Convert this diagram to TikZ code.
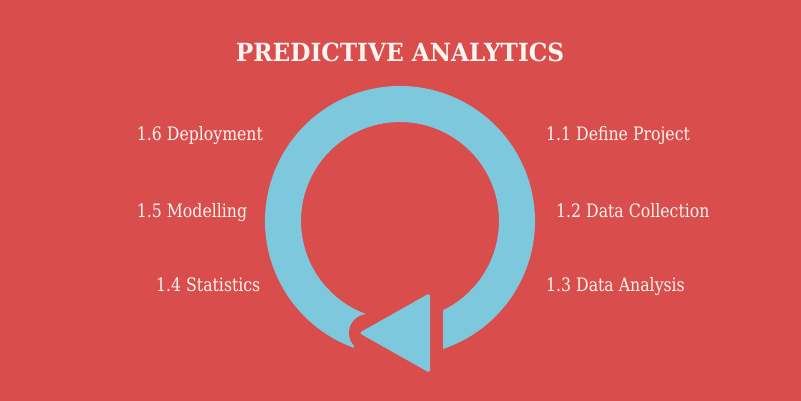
\documentclass[tikz,border=0pt]{standalone}
\usepackage{fontspec}
\newfontfamily\labfont[FakeStretch=0.85]{DejaVu Serif}
\newfontfamily\titlefont[FakeStretch=0.93]{DejaVu Serif Bold}
\definecolor{bgred}{HTML}{D94D4C}
\definecolor{ringblue}{HTML}{7EC8DE}
\definecolor{txt}{HTML}{FFF5F0}
\begin{document}
\begin{tikzpicture}[x=1pt,y=1pt,
  lab/.style={text=txt,inner sep=0pt,anchor=base west,font=\labfont\fontsize{18.5}{20}\selectfont},
  ttl/.style={text=txt,inner sep=0pt,anchor=base,font=\titlefont\fontsize{25}{28}\selectfont}]
\fill[bgred] (0,0) rectangle (801,401);
\useasboundingbox (0,0) rectangle (801,401);
\coordinate (C) at (400,180);
% ring
\draw[ringblue,line width=36pt] (C) ++(-72:117) arc[start angle=-72,end angle=250,radius=117];
% right end vertical cut
\fill[bgred] (432,40) rectangle (443,102);
% triangle carve
\coordinate (t1) at (430,108);
\coordinate (t2) at (430,28);
\coordinate (t3) at (359,68);
\draw[bgred,line width=16pt,line join=round] (t1) -- (t2) -- (t3) -- cycle;
\fill[bgred] (368,68) circle[radius=19];
\fill[ringblue,rounded corners=3pt] (t1) -- (t2) -- (t3) -- cycle;
% texts
\node[ttl] (title) at (400,339.3) {PREDICTIVE ANALYTICS};
\node[lab] (l16) at (136.7,260.3) {1.6 Deployment};
\node[lab] (l15) at (136.7,183.7) {1.5 Modelling};
\node[lab] (l14) at (156,109.3) {1.4 Statistics};
\node[lab] (l11) at (546,260.3) {1.1 Define Project};
\node[lab] (l12) at (556,183.7) {1.2 Data Collection};
\node[lab] (l13) at (546,109.3) {1.3 Data Analysis};
\end{tikzpicture}
\end{document}
